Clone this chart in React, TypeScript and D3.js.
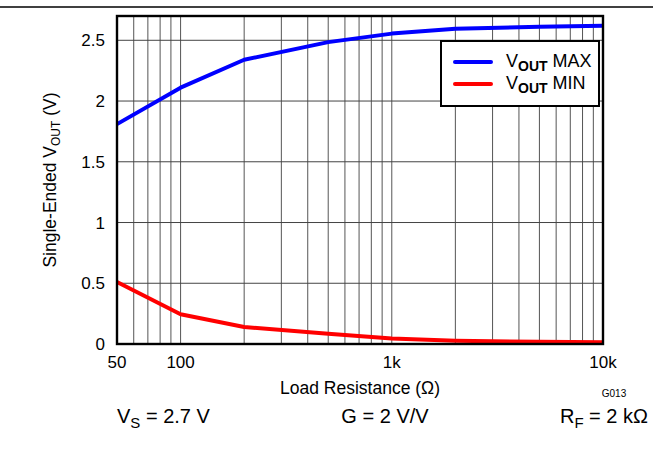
import React from "react";
import * as d3 from "d3";

const resistance = [50, 100, 200, 500, 1000, 2000, 5000, 10000];
const voutMax = [1.81, 2.11, 2.34, 2.485, 2.555, 2.595, 2.612, 2.62];
const voutMin = [0.51, 0.245, 0.14, 0.085, 0.045, 0.027, 0.018, 0.015];
const xTickValues = [50, 100, 1000, 10000];
const xTickLabels = ["50", "100", "1k", "10k"];
const yTickValues = [0, 0.5, 1, 1.5, 2, 2.5];
const yTickLabels = ["0", "0.5", "1", "1.5", "2", "2.5"];
const xGridValues = [60, 70, 80, 90, 100, 200, 300, 400, 500, 600, 700, 800, 900, 1000, 2000, 3000, 4000, 5000, 6000, 7000, 8000, 9000];

const W = 653;
const H = 466;
const L = 117, R = 603, T = 16, B = 344;
const FONT = "Arial, 'Liberation Sans', Helvetica, sans-serif";

export default function App() {
  const x = d3.scaleLog().domain([50, 10000]).range([L, R]);
  const y = d3.scaleLinear().domain([0, 2.7]).range([B, T]);
  const line = d3
    .line<number>()
    .x((_, i) => x(resistance[i]))
    .y((d) => y(d));

  return (
    <svg
      width={W}
      height={H}
      style={{ position: "absolute", left: 0, top: 0, background: "#fff" }}
      fontFamily={FONT}
    >
      <rect x={0} y={0} width={W} height={H} fill="#fff" />
      <line x1={0} x2={W} y1={7} y2={7} stroke="#000" strokeWidth={1.4} />
      {/* grid */}
      {xGridValues.map((v) => (
        <line key={"gx" + v} x1={x(v)} x2={x(v)} y1={T} y2={B} stroke="#555" strokeWidth={1} />
      ))}
      {yTickValues.slice(1).map((v) => (
        <line key={"gy" + v} x1={L} x2={R} y1={y(v)} y2={y(v)} stroke="#444" strokeWidth={1} />
      ))}
      {/* curves */}
      <path d={line(voutMax) || ""} fill="none" stroke="#0000ff" strokeWidth={4} strokeLinejoin="round" />
      <path d={line(voutMin) || ""} fill="none" stroke="#ff0000" strokeWidth={4} strokeLinejoin="round" />
      {/* frame */}
      <rect x={L} y={T} width={R - L} height={B - T} fill="none" stroke="#000" strokeWidth={2.4} />
      {/* y ticks */}
      {yTickValues.map((v, i) => (
        <text key={"yt" + v} x={105} y={y(v) + 6} textAnchor="end" fontSize={17} fill="#000">
          {yTickLabels[i]}
        </text>
      ))}
      {/* x ticks */}
      {xTickValues.map((v, i) => (
        <text key={"xt" + v} x={x(v)} y={368} textAnchor="middle" fontSize={17} fill="#000">
          {xTickLabels[i]}
        </text>
      ))}
      {/* axis titles */}
      <text x={(L + R) / 2} y={394} textAnchor="middle" fontSize={17.5} fill="#000">
        Load Resistance (Ω)
      </text>
      <text
        transform={`translate(56, ${(T + B) / 2}) rotate(-90)`}
        textAnchor="middle"
        fontSize={17.5}
        fill="#000"
      >
        Single-Ended V
        <tspan fontSize={12} dy={4}>OUT</tspan>
        <tspan dy={-4}> (V)</tspan>
      </text>
      <text x={614} y={397} textAnchor="middle" fontSize={10} fill="#000">
        G013
      </text>
      {/* legend */}
      <rect x={441} y={41} width={158} height={65} fill="#fff" stroke="#000" strokeWidth={2} />
      <line x1={455} x2={491} y1={62} y2={62} stroke="#0000ff" strokeWidth={4} strokeLinecap="round" />
      <line x1={455} x2={491} y1={84} y2={84} stroke="#ff0000" strokeWidth={4} strokeLinecap="round" />
      <text x={506} y={67} fontSize={18} fill="#000">
        V<tspan fontSize={14} fontWeight="bold" dy={4}>OUT</tspan>
        <tspan dy={-4}> MAX</tspan>
      </text>
      <text x={506} y={89} fontSize={18} fill="#000">
        V<tspan fontSize={14} fontWeight="bold" dy={4}>OUT</tspan>
        <tspan dy={-4}> MIN</tspan>
      </text>
      {/* conditions */}
      <text x={117} y={423} fontSize={20} fill="#000">
        V<tspan fontSize={15} dy={5}>S</tspan>
        <tspan dy={-5}> = 2.7 V</tspan>
      </text>
      <text x={385} y={423} textAnchor="middle" fontSize={20} fill="#000">
        G = 2 V/V
      </text>
      <text x={648} y={423} textAnchor="end" fontSize={20} fill="#000">
        R<tspan fontSize={15} dy={5}>F</tspan>
        <tspan dy={-5}> = 2 kΩ</tspan>
      </text>
    </svg>
  );
}
